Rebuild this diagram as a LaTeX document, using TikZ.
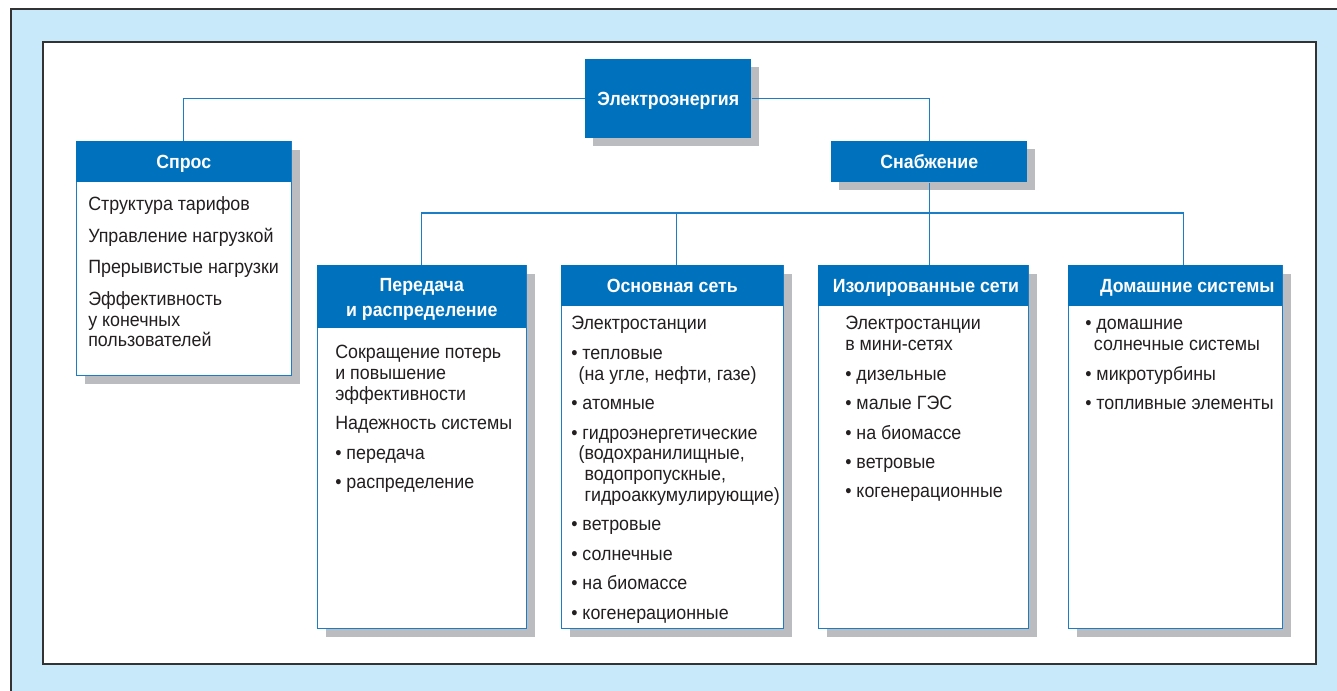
\documentclass[tikz,border=0pt]{standalone}
\usepackage{fontspec}
\setmainfont{Liberation Sans}[FakeStretch=0.93]
\usetikzlibrary{shadows}

\definecolor{bgblue}{HTML}{C7E9F9}
\definecolor{headblue}{HTML}{0071BC}
\definecolor{lineblue}{HTML}{1B7DC6}
\definecolor{shadowgray}{HTML}{BBBCBF}
\definecolor{framegray}{HTML}{333333}
\definecolor{textblack}{HTML}{231F20}

\newcommand\itemgap{\\[6.5pt]}
\newcommand\contind{\hspace*{5.5pt}}

\tikzset{
  panel/.style={draw=lineblue, line width=0.8pt, fill=white, anchor=north west, inner sep=0pt,
    drop shadow={shadow xshift=6pt, shadow yshift=-6pt, fill=shadowgray, opacity=1}},
  headbase/.style={fill=headblue, anchor=north west, inner sep=0pt, text=white, align=center,
    font=\fontsize{14.3}{15.75}\selectfont\bfseries},
  head/.style={headbase, text height=10.2pt, text depth=0pt},
  topbox/.style={head, drop shadow={shadow xshift=6pt, shadow yshift=-6pt, fill=shadowgray, opacity=1}},
  bodytext/.style={anchor=north west, inner sep=0pt, align=left, text=textblack,
    font=\fontsize{14.4}{15.6}\selectfont},
  link/.style={draw=lineblue, line width=1pt}
}

\begin{document}
\begin{tikzpicture}[x=0.75pt, y=-0.75pt]
  \useasboundingbox (0,0) rectangle (1337,691);
  \clip (0,0) rectangle (1337,691);

  % frame
  \fill[bgblue] (11,9) rectangle (1350,700);
  \draw[framegray, line width=1pt] (11,700) -- (11,9) -- (1350,9);
  \filldraw[fill=white, draw=framegray, line width=1pt] (43,42) rectangle (1316,664);

  % top level
  \node[topbox, minimum width=124.5pt, minimum height=59.25pt] (energy) at (585,59) {Электроэнергия};
  \node[topbox, minimum width=147pt, minimum height=30.75pt] (supply) at (831,141) {Снабжение};

  % demand
  \node[panel, minimum width=161.25pt, minimum height=175.5pt] (sprospanel) at (76,141) {};
  \node[head, minimum width=161.25pt, minimum height=30.75pt] (spros) at (76,141) {Спрос};
  \node[bodytext] (sprostext) at (88,196) {\strut Структура тарифов\\[8pt]
    Управление нагрузкой\\[8pt]
    Прерывистые нагрузки\\[8pt]
    Эффективность\\у конечных\\пользователей};

  % supply branches
  \node[panel, minimum width=156.75pt, minimum height=272.25pt] (transpanel) at (317,265) {};
  \node[headbase, minimum width=156.75pt, minimum height=47.25pt] (trans) at (317,265) {\rule{0pt}{14pt}Передача\\[3pt]и распределение};
  \node[bodytext] (transtext) at (335,344) {\strut Сокращение потерь\\и повышение\\эффективности\itemgap
    Надежность системы\itemgap
    • передача\itemgap
    • распределение};

  \node[panel, minimum width=166.5pt, minimum height=272.25pt] (gridpanel) at (561,265) {};
  \node[head, minimum width=166.5pt, minimum height=30.75pt] (grid) at (561,265) {Основная сеть};
  \node[bodytext] (gridtext) at (571,315) {\strut Электростанции\itemgap
    • тепловые\\\contind(на угле, нефти, газе)\itemgap
    • атомные\itemgap
    • гидроэнергетические\\\contind(водохранилищные,\\\contind\hphantom{(}водопропускные,\\\contind\hphantom{(}гидроаккумулирующие)\itemgap
    • ветровые\itemgap
    • солнечные\itemgap
    • на биомассе\itemgap
    • когенерационные};

  \node[panel, minimum width=157.5pt, minimum height=272.25pt] (isolpanel) at (818,265) {};
  \node[head, minimum width=157.5pt, minimum height=30.75pt] (isol) at (818,265) {\hspace*{4pt}Изолированные сети};
  \node[bodytext] (isoltext) at (845,315) {\strut Электростанции\\в мини-сетях\itemgap
    • дизельные\itemgap
    • малые ГЭС\itemgap
    • на биомассе\itemgap
    • ветровые\itemgap
    • когенерационные};

  \node[panel, minimum width=160.5pt, minimum height=272.25pt] (homepanel) at (1068,265) {};
  \node[head, minimum width=160.5pt, minimum height=30.75pt] (home) at (1068,265) {\hspace*{18pt}Домашние системы};
  \node[bodytext] (hometext) at (1085,315) {\strut • домашние\\\contind\hspace*{1pt}солнечные системы\itemgap
    • микротурбины\itemgap
    • топливные элементы};

  % connectors
  \coordinate (bus) at (929,213);
  \draw[link] (energy.west) -| (spros.north);
  \draw[link] (energy.east) -| (supply.north);
  \draw[link] (supply.south) -- (supply.south |- isol.north);
  \draw[link] (trans.north) |- (bus) -| ([xshift=6pt]home.north);
  \draw[link] ([xshift=3pt]grid.north) -- ([xshift=3pt]grid.north |- bus);
\end{tikzpicture}
\end{document}
